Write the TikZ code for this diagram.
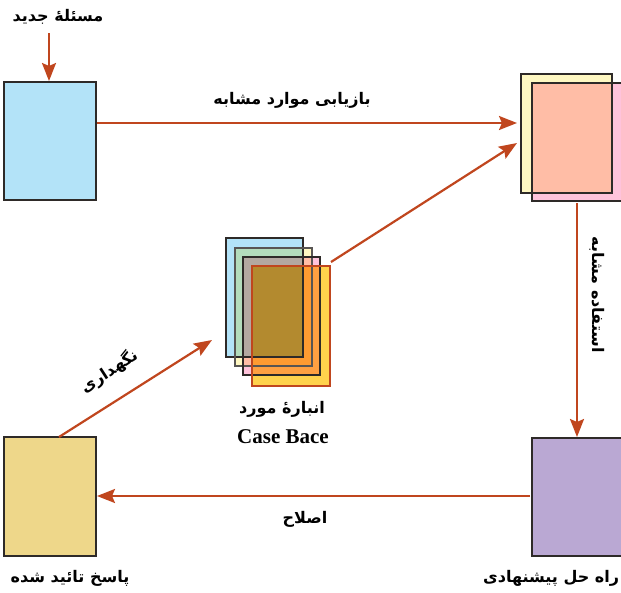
\documentclass[tikz,border=0pt]{standalone}
\usepackage{fontspec}
\setmainfont{Liberation Serif}
\newfontfamily\fa[Script=Arabic]{DejaVu Sans}
\TeXXeTstate=1
\usetikzlibrary{arrows.meta,calc}
\definecolor{rust}{HTML}{C0461E}
\definecolor{edge}{HTML}{2E2A28}
\definecolor{cblue}{HTML}{B3E3F8}
\definecolor{cyel}{HTML}{FFF8C2}
\definecolor{cpink}{HTML}{FFC3DB}
\definecolor{cpurp}{HTML}{BAA8D3}
\definecolor{cbl}{HTML}{EED78A}
\definecolor{cgold}{HTML}{FFD24C}
\tikzset{
  box/.style={draw=edge, line width=2pt, rectangle, inner sep=0pt},
  conn/.style={draw=rust, line width=2.2pt, -{Stealth[length=18pt,width=14pt,inset=3pt]}},
  falabel/.style={font=\fa\bfseries\fontsize{16}{18}\selectfont, text=black, inner sep=0pt},
  mul/.style={blend mode=multiply},
}
\begin{document}
\begin{tikzpicture}[x=1pt,y=-1pt]
\useasboundingbox (0,0) rectangle (621,592);
% boxes
\node[box, fill=cblue, minimum width=92pt, minimum height=118pt] (A) at (50,141) {};
\node[box, fill=cbl, minimum width=92pt, minimum height=119pt] (E) at (50,496.5) {};
\node[box, fill=cpurp, minimum width=92pt, minimum height=118pt] (D) at (578,497) {};
% top right pair
\node[rectangle, mul, fill=cyel, minimum width=91pt, minimum height=119pt, inner sep=0pt] (B1) at (566.5,133.5) {};
\node[rectangle, mul, fill=cpink, minimum width=91pt, minimum height=118pt, inner sep=0pt] (B2) at (578,142) {};
\draw[edge, line width=2pt] (B1.south west) rectangle (B1.north east);
\draw[edge, line width=2pt] (B2.south west) rectangle (B2.north east);
% stack
\node[rectangle, mul, fill=cblue, minimum width=77pt, minimum height=119pt, inner sep=0pt] (S1) at (264.5,297.5) {};
\node[rectangle, mul, fill=cyel, minimum width=77pt, minimum height=118pt, inner sep=0pt] (S2) at (273.5,307) {};
\node[rectangle, mul, fill=cpink, minimum width=77pt, minimum height=118pt, inner sep=0pt] (S3) at (281.5,316) {};
\node[rectangle, mul, fill=cgold, minimum width=78pt, minimum height=120pt, inner sep=0pt] (S4) at (291,326) {};
\draw[edge, line width=1.8pt] (S1.south west) rectangle (S1.north east);
\draw[edge!80, line width=1.8pt] (S2.south west) rectangle (S2.north east);
\draw[edge, line width=1.8pt] (S3.south west) rectangle (S3.north east);
\draw[rust, line width=1.8pt] (S4.south west) rectangle (S4.north east);
% labels
\node[falabel] (LA) at (58,17) {\beginR مسئلهٔ جدید\endR};
\node[falabel] (LE) at (70,578) {\beginR پاسخ تائید شده\endR};
\node[falabel, anchor=west] (LD) at (483,578) {\beginR راه حل پیشنهادی\endR};
\node[falabel] (LS) at (282,409) {\beginR انبارهٔ مورد\endR};
\node[font=\bfseries\fontsize{21}{23}\selectfont, inner sep=0pt] (LS2) at (283,437) {Case Bace};
\node[falabel] (L1) at (292,100) {\beginR بازیابی موارد مشابه\endR};
\node[falabel, rotate=-90] (L2) at (597,295) {\beginR استفاده مشابه\endR};
\node[falabel] (L3) at (305,519) {\beginR اصلاح\endR};
\node[falabel, rotate=33] (L4) at (109,371) {\beginR نگهداری\endR};
% connector points
\coordinate (a1) at (49,33);
\coordinate (a2) at (97,123);
\coordinate (b1) at (517,123);
\coordinate (s1) at (331,262);
\coordinate (b2) at (517,143);
\coordinate (b3) at (577,203);
\coordinate (d1) at (577,437);
\coordinate (d2) at (530,496);
\coordinate (e1) at (97,496);
\coordinate (e2) at (59,437);
\coordinate (s2) at (212,340);
\draw[conn] (a1) -- (A.north -| a1);
\draw[conn] (a2) -- (b1);
\draw[conn] (s1) -- (b2);
\draw[conn] (b3) -- (d1);
\draw[conn] (d2) -- (e1);
\draw[conn] (e2) -- (s2);
\end{tikzpicture}
\end{document}
